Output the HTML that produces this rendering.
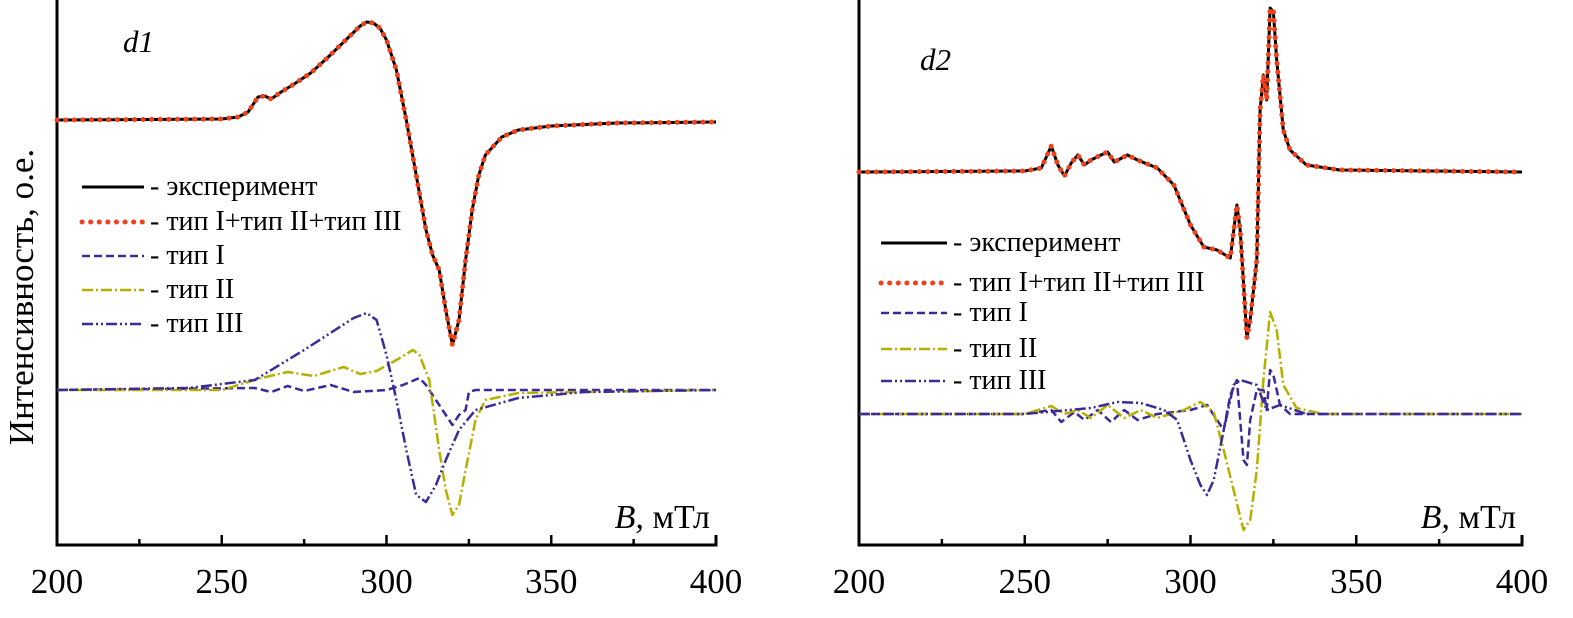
<!DOCTYPE html>
<html><head><meta charset="utf-8"><style>
body{margin:0;background:#fff}
svg{display:block;font-family:"Liberation Serif",serif}
</style></head><body>
<svg id="c" width="1573" height="618" xmlns="http://www.w3.org/2000/svg">
<text x="33" y="297" font-size="35" transform="rotate(-90 33 297)" text-anchor="middle">Интенсивность, о.е.</text>
</svg>
<script>
// ---- Panel d1 data (B in mT, intensity in arbitrary units) ----
const d1ExpB=[200,250,255,258,261,263,265,268,272,277,282,287,292,294,296,298,300,303,306,309,312,314,316,318,320,322,324,326,328,330,335,340,350,370,400];
const d1ExpV=[0,1,3,8,23,24,21,28,36,47,62,78,94,98,97,92,80,50,0,-55,-110,-135,-150,-190,-225,-200,-140,-90,-55,-35,-17,-10,-6,-3,-2];
const d1IB=[200,260,265,270,275,283,290,300,305,310,312,315,318,320,322,324,325,327,400];
const d1IV=[0,2,-2,4,-1,5,-2,0,5,12,5,-10,-25,-35,-25,-20,-2,0,0];
const d1IIB=[200,250,262,270,278,287,292,297,303,308,310,313,316,318,320,322,324,327,330,340,400];
const d1IIV=[0,0,12,18,14,23,16,19,30,40,35,10,-60,-100,-125,-115,-80,-30,-10,-3,0];
const d1IIIB=[200,240,260,275,290,294,297,300,303,306,309,312,315,318,322,327,340,360,400];
const d1IIIV=[0,2,10,40,72,77,70,35,-10,-60,-105,-112,-95,-70,-40,-20,-8,-2,0];
// ---- Panel d2 data ----
const d2ExpB=[200,250,255,258,260,262,264,266,268,270,273,275,277,281,284,290,295,300,304,308,312,314,315,317,318,320,321,322,323,324,325,326,328,330,335,345,400];
const d2ExpV=[0,1,4,26,7,-4,9,17,7,12,17,20,10,17,12,4,-13,-53,-75,-78,-86,-33,-58,-166,-148,-88,62,97,72,164,160,112,42,22,7,2,0];
const d2IB=[200,250,258,261,265,268,272,276,280,284,290,300,305,310,312,314,316,317,318,320,322,323,324,325,327,330,400];
const d2IV=[0,0,4,-8,2,-6,4,-8,4,-6,0,4,9,-16,19,34,-46,-51,-6,24,24,4,44,39,9,0,0];
const d2IIB=[200,250,258,262,266,270,275,280,285,290,298,303,307,310,313,316,318,320,322,324,326,328,332,340,400];
const d2IIV=[0,0,8,0,4,-4,9,-4,4,-4,4,12,2,-36,-76,-116,-106,-56,34,102,84,29,6,0,0];
const d2IIIB=[200,250,270,278,285,292,296,300,303,305,307,310,313,315,320,323,327,335,400];
const d2IIIV=[0,0,6,12,11,4,-6,-46,-71,-81,-66,-16,29,34,29,4,9,0,0];
const ticks=[200,250,300,350,400];
const minor=[225,275,325,375];

const NS="http://www.w3.org/2000/svg";
const svg=document.getElementById('c');
function mk(tag,attrs,parent){const e=document.createElementNS(NS,tag);for(const k in attrs)e.setAttribute(k,attrs[k]);(parent||svg).appendChild(e);return e;}

function panel(p){
  const g=mk('g',{});
  
  
  const xs=b=>p.x0+(b-200)*(p.x1-p.x0)/200;
  const ax=mk('path',{d:`M${p.x0},0 L${p.x0},545 L${p.x1},545 L${p.x1},535`,stroke:'#000','stroke-width':3,fill:'none'},g);
  
  
  ticks.forEach(t=>{
    const l=mk('line',{x1:xs(t),x2:xs(t),y1:545,y2:535,stroke:'#000','stroke-width':2.5},g);
    
    
    const tx=mk('text',{x:xs(t),y:593,'font-size':35,'text-anchor':'middle'},g);
    tx.textContent=t;
    
    
  });
  minor.forEach(t=>{
    const l=mk('line',{x1:xs(t),x2:xs(t),y1:545,y2:539,stroke:'#000','stroke-width':2.5},g);
    
    
  });
  const series=[
    {B:p.IB,V:p.IV,base:p.b2,c:'#3b2a98',d:'8,4',w:2.5,n:'series-type-1'},
    {B:p.IIB,V:p.IIV,base:p.b2,c:'#b5b000',d:'11,3,2,3',w:2.5,n:'series-type-2'},
    {B:p.IIIB,V:p.IIIV,base:p.b2,c:'#3b2a98',d:'11,3,2,3,2,3',w:2.5,n:'series-type-3'},
    {B:p.eB,V:p.eV,base:p.b1,c:'#000',d:'',w:3,n:'series-experiment'},
    {B:p.eB,V:p.eV,base:p.b1,c:'#f0401c',d:'0.1,8.5',w:5,n:'series-sum-fit',cap:'round'}
  ];
  series.forEach(s=>{
    const d=s.B.map((b,i)=>(i?'L':'M')+xs(b).toFixed(1)+','+(s.base-s.V[i]).toFixed(1)).join(' ');
    const a={d:d,stroke:s.c,'stroke-width':s.w,fill:'none','stroke-linejoin':'round'};
    if(s.d)a['stroke-dasharray']=s.d;
    if(s.cap)a['stroke-linecap']=s.cap;
    const e=mk('path',a,g);
    
    
  });
  const items=[['- эксперимент','#000','',3],['- тип I+тип II+тип III','#f0401c','0.1,8.5',5],['- тип I','#3b2a98','8,4',2.5],['- тип II','#b5b000','11,3,2,3',2.5],['- тип III','#3b2a98','11,3,2,3,2,3',2.5]];
  items.forEach((it,i)=>{
    const y=p.ly[i];
    const a={x1:p.lx,x2:p.lx+p.lw,y1:y,y2:y,stroke:it[1],'stroke-width':it[3]};
    if(it[2]){a['stroke-dasharray']=it[2];}
    if(it[1]=='#f0401c')a['stroke-linecap']='round';
    const l=mk('line',a,g);
    
    
    const t=mk('text',{x:p.lx+p.lw+6,y:y+8,'font-size':28},g);
    t.textContent=it[0];
    
    
  });
  const lab=mk('text',{x:p.labx,y:p.laby,'font-size':31,'font-style':'italic'},g);
  lab.textContent=p.label;
  
  
  const xt=mk('text',{x:p.x1-6,y:528,'font-size':34,'text-anchor':'end'},g);
  xt.innerHTML='<tspan font-style="italic">B,</tspan> мТл';
  
  
}
panel({name:'panel-d1',x0:57,x1:716,b1:120,b2:390,eB:d1ExpB,eV:d1ExpV,IB:d1IB,IV:d1IV,IIB:d1IIB,IIV:d1IIV,IIIB:d1IIIB,IIIV:d1IIIV,
  lx:82,lw:62,ly:[187,222,256,290,324],label:'d1',labx:123,laby:52});
panel({name:'panel-d2',x0:859,x1:1522,b1:172,b2:414,eB:d2ExpB,eV:d2ExpV,IB:d2IB,IV:d2IV,IIB:d2IIB,IIV:d2IIV,IIIB:d2IIIB,IIIV:d2IIIV,
  lx:881,lw:66,ly:[243,283,313,349,381],label:'d2',labx:920,laby:70});
</script>
</body></html>
